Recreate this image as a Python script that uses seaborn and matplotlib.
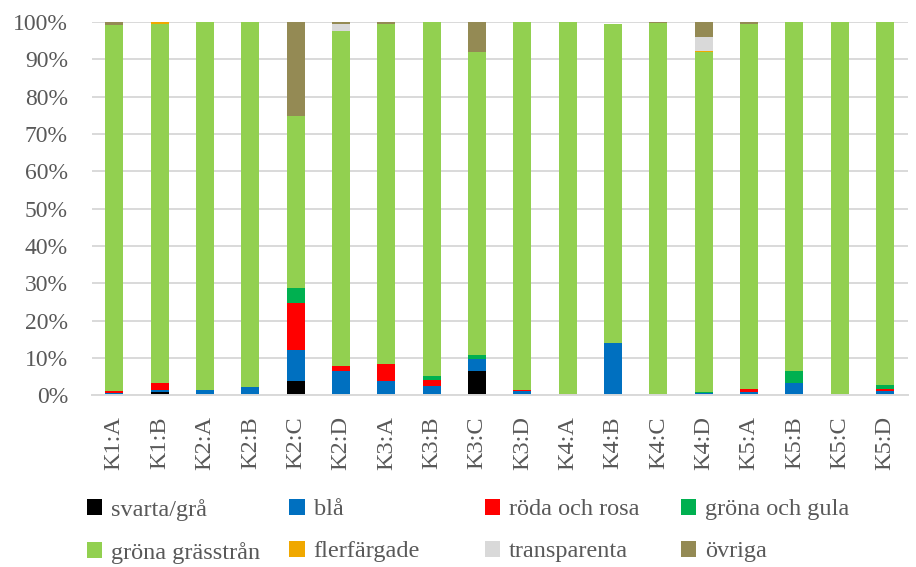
import numpy as np
import pandas as pd
import matplotlib.pyplot as plt
import seaborn as sns
from matplotlib.patches import Patch

# provpunkter
prover = ["K1:A", "K1:B", "K2:A", "K2:B", "K2:C", "K2:D", "K3:A", "K3:B", "K3:C",
          "K3:D", "K4:A", "K4:B", "K4:C", "K4:D", "K5:A", "K5:B", "K5:C", "K5:D"]

# andel (%) per kategori
svarta_gra = [0, 0.9, 0, 0, 3.8, 0, 0, 0, 6.5, 0, 0, 0, 0, 0, 0, 0, 0, 0]
bla = [0.6, 0.6, 1.3, 2.2, 8.4, 6.6, 3.9, 2.4, 3.2, 1.2, 0, 14.0, 0, 0.5, 0.8, 3.2, 0, 1.2]
roda_rosa = [0.4, 1.7, 0, 0, 12.5, 1.1, 4.5, 1.8, 0, 0.3, 0.3, 0, 0, 0, 0.8, 0, 0, 0.5]
grona_gula = [0.2, 0, 0.2, 0, 4.0, 0, 0, 0.9, 1.0, 0, 0, 0, 0, 0.3, 0, 3.3, 0, 0.9]
grasstran = [98.1, 96.3, 98.5, 97.8, 46.2, 90.0, 91.2, 94.9, 81.3, 98.5, 99.7, 85.6,
             99.8, 91.2, 97.9, 93.5, 100, 97.4]
flerfargade = [0, 0.5, 0, 0, 0, 0, 0, 0, 0, 0, 0, 0, 0, 0.3, 0, 0, 0, 0]
transparenta = [0, 0, 0, 0, 0, 1.8, 0, 0, 0, 0, 0, 0, 0, 3.8, 0, 0, 0, 0]
ovriga = [0.7, 0, 0, 0, 25.1, 0.5, 0.4, 0, 8.0, 0, 0, 0, 0.2, 3.9, 0.5, 0, 0, 0]

serier = ["svarta/grå", "blå", "röda och rosa", "gröna och gula",
          "gröna grässtrån", "flerfärgade", "transparenta", "övriga"]
farger = ["#000000", "#0070C0", "#FF0000", "#00B050",
          "#92D050", "#F0A800", "#D9D9D9", "#948A54"]

sns.set_theme(style="white")
plt.rcParams["font.family"] = ["Liberation Serif", "DejaVu Serif"]
textfarg = "#595959"

lager = np.array([svarta_gra, bla, roda_rosa, grona_gula,
                  grasstran, flerfargade, transparenta, ovriga])
kumulativ = np.cumsum(lager, axis=0)

fig, ax = plt.subplots(figsize=(9.16, 5.67), dpi=100)
fig.subplots_adjust(left=0.1, right=0.991, top=0.961, bottom=0.303)

# staplade staplar: rita den högsta summan först, sedan de lägre ovanpå
for farg, hojd in reversed(list(zip(farger, kumulativ))):
    df = pd.DataFrame({"prov": prover, "andel": hojd})
    sns.barplot(data=df, x="prov", y="andel", color=farg, width=0.4,
                saturation=1, linewidth=0, ax=ax)

ax.set_xlabel("")
ax.set_ylabel("")
ax.set_ylim(0, 100)
ax.set_xlim(-0.5, len(prover) - 0.5)
ax.set_yticks(range(0, 101, 10))
ax.set_yticklabels([f"{v}%" for v in range(0, 101, 10)])
ax.grid(axis="y", color="#D9D9D9", linewidth=1.4)
ax.set_axisbelow(True)
for s in ["top", "right", "left"]:
    ax.spines[s].set_visible(False)
ax.spines["bottom"].set_color("#D9D9D9")
ax.spines["bottom"].set_linewidth(1.4)
ax.tick_params(axis="y", length=0, pad=17, labelsize=17, labelcolor=textfarg)
ax.tick_params(axis="x", length=0, pad=15, labelsize=17.5, labelcolor=textfarg,
               labelrotation=90)

# förklaring i fyra kolumner, två rader
kol_x = [0.095, 0.316, 0.529, 0.743]
for i, x in enumerate(kol_x):
    handtag = [Patch(facecolor=farger[i], edgecolor="none"),
               Patch(facecolor=farger[i + 4], edgecolor="none")]
    fig.legend(handtag, [serier[i], serier[i + 4]], loc="upper left",
               bbox_to_anchor=(x, 0.12), frameon=False, fontsize=17.5,
               labelcolor=textfarg, handlelength=0.62, handleheight=0.62,
               handletextpad=0.37, labelspacing=0.85, borderpad=0,
               borderaxespad=0)

fig.savefig("out.png", dpi=100)
